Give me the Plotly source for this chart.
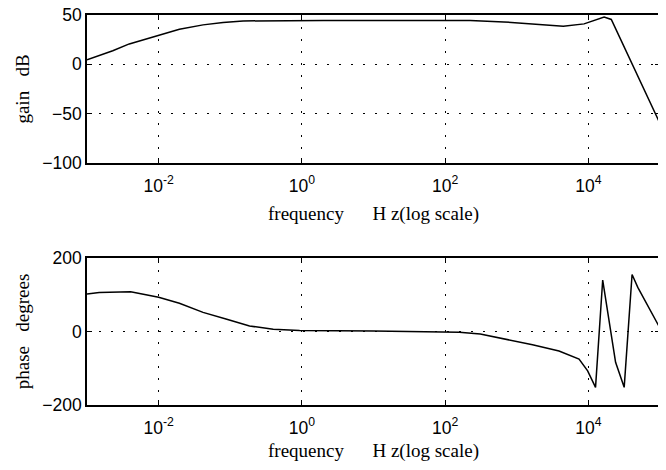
import plotly.graph_objects as go
from plotly.subplots import make_subplots

# Gain curve (frequency in Hz, gain in dB)
gain_freq = [1e-3, 1.66e-3, 2.29e-3, 3.89e-3, 6.76e-3, 1e-2, 1.95e-2, 4.17e-2, 7.94e-2,
             0.151, 0.5, 2.0, 10.0, 100.0, 224.0, 661.0, 1905.0, 4467.0, 8710.0,
             13490.0, 16600.0, 20890.0, 48980.0, 1e5]
gain_db = [4.5, 10.3, 13.8, 20.7, 25.8, 29.3, 35.5, 40.0, 42.4,
           44.0, 44.3, 44.3, 44.3, 44.3, 44.3, 43.0, 40.4, 38.7, 41.0,
           45.5, 47.9, 45.5, -12.0, -60.0]

# Phase curve (frequency in Hz, phase in degrees)
phase_freq = [1e-3, 1.48e-3, 4.07e-3, 1e-2, 1.95e-2, 4.17e-2, 8.71e-2, 0.186, 0.398,
              0.93, 10.0, 100.0, 158.0, 309.0, 724.0, 1660.0, 3890.0, 7410.0, 9770.0,
              12590.0, 15850.0, 23990.0, 31620.0, 40740.0, 48980.0, 1e5]
phase_deg = [102, 106, 108, 93, 77, 52, 34, 15, 6,
             3, 1, 0, -2, -7, -21, -36, -53, -75, -107,
             -152, 140, -84, -152, 155, 120, 9]

# Tick labels
x_tickvals = [1e-2, 1, 1e2, 1e4]
x_ticktext = ["10<sup>-2</sup>", "10<sup>0</sup>", "10<sup>2</sup>", "10<sup>4</sup>"]
gain_ticks = [-100, -50, 0, 50]
gain_ticktext = ["\u2212100", "\u221250", "0", "50"]
phase_ticks = [-200, 0, 200]
phase_ticktext = ["\u2212200", "0", "200"]

x_title = "frequency" + "\u00a0" * 6 + "H z(log scale)"
gain_title = "gain" + "\u00a0" * 3 + "dB"
phase_title = "phase" + "\u00a0" * 3 + "degrees"

fig = make_subplots(rows=2, cols=1)
fig.add_trace(go.Scatter(x=gain_freq, y=gain_db, mode="lines",
                         line=dict(color="black", width=1.5), showlegend=False), row=1, col=1)
fig.add_trace(go.Scatter(x=phase_freq, y=phase_deg, mode="lines",
                         line=dict(color="black", width=1.5), showlegend=False), row=2, col=1)

tick_font = dict(family="Liberation Sans, Arial, sans-serif", size=17.5, color="black")
title_font = dict(family="Liberation Serif, Times New Roman, serif", size=19, color="black")

grid = dict(showgrid=True, gridcolor="black", griddash="2px,10px", gridwidth=1.2)
frame = dict(showline=True, linecolor="black", linewidth=1.5, mirror="ticks",
             ticks="inside", ticklen=5, tickcolor="black", zeroline=False,
             automargin=False, tickfont=tick_font, ticklabeloverflow="allow")

xcommon = dict(type="log", range=[-3, 5], tickvals=x_tickvals, ticktext=x_ticktext,
               ticklabelstandoff=6, **grid, **frame)
fig.update_xaxes(**xcommon, title=dict(text=x_title, font=title_font, standoff=12), row=1, col=1)
fig.update_xaxes(**xcommon, title=dict(text=x_title, font=title_font, standoff=7), row=2, col=1)

fig.update_yaxes(**grid, **frame, range=[-100, 50], tickvals=gain_ticks,
                 ticktext=gain_ticktext,
                 title=dict(text=gain_title, font=title_font, standoff=8), row=1, col=1)
fig.update_yaxes(**grid, **frame, range=[-200, 200], tickvals=phase_ticks,
                 ticktext=phase_ticktext,
                 title=dict(text=phase_title, font=title_font, standoff=8), row=2, col=1)

# page body adds an 8px offset, so the figure is sized to fit the window
fig.update_layout(width=658, height=462, margin=dict(l=79, r=6, t=7, b=65),
                  paper_bgcolor="white", plot_bgcolor="white")
fig.update_layout(yaxis=dict(domain=[0.6205, 1.0]), yaxis2=dict(domain=[0.0, 0.377]))

fig.write_html("out.html")
